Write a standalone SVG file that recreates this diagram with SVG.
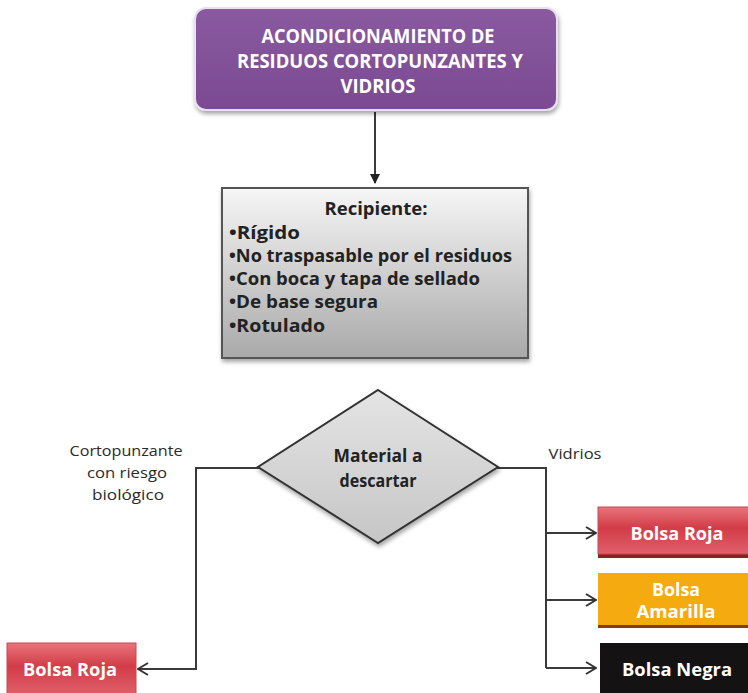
<svg xmlns="http://www.w3.org/2000/svg" width="748" height="693" viewBox="0 0 748 693">
  <defs>
    <linearGradient id="gPurple" x1="0" y1="0" x2="0" y2="1">
      <stop offset="0" stop-color="#8a5aa0"/>
      <stop offset="1" stop-color="#7a4a92"/>
    </linearGradient>
    <linearGradient id="gGrey" x1="0" y1="0" x2="0" y2="1">
      <stop offset="0" stop-color="#f6f6f6"/>
      <stop offset="1" stop-color="#a9a9a9"/>
    </linearGradient>
    <linearGradient id="gDiamond" x1="0" y1="0" x2="0" y2="1">
      <stop offset="0" stop-color="#e4e4e4"/>
      <stop offset="1" stop-color="#c6c6c6"/>
    </linearGradient>
    <linearGradient id="gRed" x1="0" y1="0" x2="0" y2="1">
      <stop offset="0" stop-color="#e8747c"/>
      <stop offset="0.45" stop-color="#d23c47"/>
      <stop offset="1" stop-color="#e0606a"/>
    </linearGradient>
    <filter id="soft" x="-10%" y="-10%" width="130%" height="140%">
      <feDropShadow dx="1" dy="3" stdDeviation="2" flood-color="#000" flood-opacity="0.35"/>
    </filter>
    <marker id="solid" viewBox="0 0 10 10" refX="9" refY="5" markerWidth="10" markerHeight="10" markerUnits="userSpaceOnUse" orient="auto">
      <path d="M0,0 L10,5 L0,10 Z" fill="#222"/>
    </marker>
    <marker id="open" viewBox="0 0 12 14" refX="11" refY="7" markerWidth="12" markerHeight="14" markerUnits="userSpaceOnUse" orient="auto">
      <path d="M1,1 L11,7 L1,13" fill="none" stroke="#333" stroke-width="2"/>
    </marker>
  </defs>
  <style>
    text { font-family: "Open Sans", "Noto Sans", "DejaVu Sans", sans-serif; font-weight: bold; }
    .title { fill: #ffffff; font-size: 19px; text-anchor: middle; }
    .body { fill: #222222; font-size: 17px; }
    .lbl { fill: #2a2a2a; font-size: 14px; font-weight: normal; text-anchor: middle; }
    .bag { fill: #ffffff; font-size: 17px; text-anchor: middle; }
    .wire { fill: none; stroke: #3a3a3a; stroke-width: 2; }
  </style>

  <!-- connectors -->
  <g id="connectors">
    <line class="wire" x1="375" y1="112" x2="375" y2="183" marker-end="url(#solid)"/>
    <polyline class="wire" points="259,468 196,468 196,669 138,669" marker-end="url(#open)"/>
    <polyline class="wire" points="497,468 546,468 546,668"/>
    <line class="wire" x1="546" y1="533" x2="596" y2="533" marker-end="url(#open)"/>
    <line class="wire" x1="546" y1="600" x2="596" y2="600" marker-end="url(#open)"/>
    <line class="wire" x1="546" y1="668" x2="596" y2="668" marker-end="url(#open)"/>
  </g>

  <!-- title -->
  <g id="title">
    <rect x="195" y="8" width="362" height="102" rx="11" fill="url(#gPurple)" stroke="#e8e0ee" stroke-width="2" filter="url(#soft)"/>
    <text class="title" x="378" y="43" textLength="233" lengthAdjust="spacingAndGlyphs">ACONDICIONAMIENTO DE</text>
    <text class="title" x="380" y="68" textLength="286" lengthAdjust="spacingAndGlyphs">RESIDUOS CORTOPUNZANTES Y</text>
    <text class="title" x="378" y="93" textLength="75" lengthAdjust="spacingAndGlyphs">VIDRIOS</text>
  </g>

  <!-- container requirements -->
  <g id="recipiente">
    <rect x="222" y="188" width="306" height="170" fill="url(#gGrey)" stroke="#555" stroke-width="2" filter="url(#soft)"/>
    <text class="body" x="376" y="215" text-anchor="middle" textLength="103" lengthAdjust="spacingAndGlyphs">Recipiente:</text>
    <text class="body" x="229" y="239" textLength="71" lengthAdjust="spacingAndGlyphs">•Rígido</text>
    <text class="body" x="229" y="262" textLength="283" lengthAdjust="spacingAndGlyphs">•No traspasable por el residuos</text>
    <text class="body" x="229" y="285" textLength="251" lengthAdjust="spacingAndGlyphs">•Con boca y tapa de sellado</text>
    <text class="body" x="229" y="308" textLength="149" lengthAdjust="spacingAndGlyphs">•De base segura</text>
    <text class="body" x="229" y="332" textLength="96" lengthAdjust="spacingAndGlyphs">•Rotulado</text>
  </g>

  <!-- decision -->
  <g id="decision">
    <polygon points="378,390 498,467 378,543 258,467" fill="url(#gDiamond)" stroke="#333" stroke-width="2" filter="url(#soft)"/>
    <text class="body" x="378" y="462" text-anchor="middle" font-size="16" textLength="89" lengthAdjust="spacingAndGlyphs" fill="#333">Material a</text>
    <text class="body" x="378" y="487" text-anchor="middle" font-size="16" textLength="77" lengthAdjust="spacingAndGlyphs" fill="#333">descartar</text>
  </g>

  <!-- branch labels -->
  <g id="label-corto">
    <text class="lbl" x="126" y="456" textLength="113" lengthAdjust="spacingAndGlyphs">Cortopunzante</text>
    <text class="lbl" x="127" y="478" textLength="80" lengthAdjust="spacingAndGlyphs">con riesgo</text>
    <text class="lbl" x="128" y="500" textLength="72" lengthAdjust="spacingAndGlyphs">biológico</text>
  </g>
  <g id="label-vidrios">
    <text class="lbl" x="575" y="459" textLength="53" lengthAdjust="spacingAndGlyphs">Vidrios</text>
  </g>

  <!-- bags -->
  <g id="bolsa-roja-izq">
    <rect x="7" y="643" width="129" height="52" fill="url(#gRed)" stroke="#c84a52" stroke-width="1"/>
    <text class="bag" x="70" y="676" textLength="94" lengthAdjust="spacingAndGlyphs">Bolsa Roja</text>
  </g>
  <g id="bolsa-roja-der">
    <rect x="598" y="507" width="152" height="51" fill="#8c1f22"/>
    <rect x="598" y="507" width="152" height="47" fill="url(#gRed)" stroke="#c84a52" stroke-width="1"/>
    <text class="bag" x="677" y="540" textLength="93" lengthAdjust="spacingAndGlyphs">Bolsa Roja</text>
  </g>
  <g id="bolsa-amarilla">
    <rect x="598" y="573" width="152" height="55" fill="#8a3a10"/>
    <rect x="598" y="573" width="152" height="52" fill="#f5aa0f"/>
    <text class="bag" x="676" y="596" textLength="48" lengthAdjust="spacingAndGlyphs" fill="#fff6dc">Bolsa</text>
    <text class="bag" x="676" y="618" textLength="79" lengthAdjust="spacingAndGlyphs" fill="#fff6dc">Amarilla</text>
  </g>
  <g id="bolsa-negra">
    <rect x="600" y="643" width="150" height="52" fill="#141212"/>
    <text class="bag" x="677" y="676" textLength="110" lengthAdjust="spacingAndGlyphs" fill="#e8e8e8">Bolsa Negra</text>
  </g>
</svg>
